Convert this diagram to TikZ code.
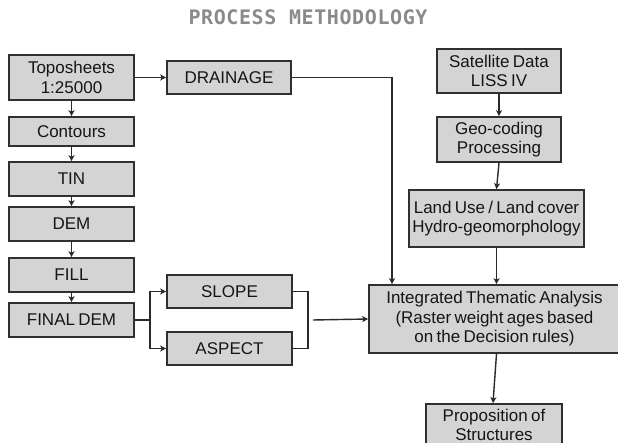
\documentclass[tikz,border=0pt]{standalone}
\usepackage{fontspec}
\setmainfont{Liberation Sans}[WordSpace=0.7]
\newfontfamily\titlefont{DejaVu Sans Mono}[LetterSpace=3]
\usetikzlibrary{arrows.meta}
\definecolor{boxfill}{HTML}{D4D4D4}
\definecolor{boxline}{HTML}{303030}
\definecolor{linecol}{HTML}{2A2A2A}
\definecolor{textcol}{HTML}{151515}
\definecolor{titlegray}{HTML}{8A8A8A}
\begin{document}
\begin{tikzpicture}[x=1pt,y=-1pt,
  box/.style={draw=boxline, fill=boxfill, line width=1.6pt, inner sep=0pt, align=center,
              font=\fontsize{17}{19.5}\selectfont, text=textcol},
  arr/.style={draw=linecol, line width=1.4pt, -{Stealth[length=6pt,width=6pt,inset=1.5pt]}},
  ln/.style={draw=linecol, line width=1.4pt}]
\useasboundingbox (0,0) rectangle (618,443);
\clip (0,0) rectangle (618,443);

\node[text=titlegray, font=\titlefont\bfseries\fontsize{20}{20}\selectfont] (title) at (308,17.5) {PROCESS METHODOLOGY};

\node[box, minimum width=125pt, minimum height=45pt] (topo) at (71.5,77.5) {Toposheets\\1:25000};
\node[box, minimum width=124pt, minimum height=33pt] (drain) at (229,77.5) {DRAINAGE};
\node[box, minimum width=124pt, minimum height=44pt] (sat) at (499,71) {Satellite Data\\LISS IV};
\node[box, minimum width=125pt, minimum height=29pt] (contours) at (71.5,131.5) {Contours};
\node[box, minimum width=125pt, minimum height=34pt] (tin) at (71.5,179) {TIN};
\node[box, minimum width=125pt, minimum height=34pt] (dem) at (71.5,224) {DEM};
\node[box, minimum width=125pt, minimum height=34pt] (fillbox) at (71.5,275) {FILL};
\node[box, minimum width=125pt, minimum height=34pt] (final) at (71.5,320) {FINAL DEM};
\node[box, minimum width=124pt, minimum height=45pt] (geo) at (499,139.5) {Geo-coding\\Processing};
\node[box, minimum width=175pt, minimum height=57pt] (land) at (496.5,218.5) {Land Use / Land cover\\Hydro-geomorphology};
\node[box, minimum width=125pt, minimum height=33pt] (slope) at (229.5,291.5) {SLOPE};
\node[box, minimum width=125pt, minimum height=33pt] (aspect) at (229.5,348.5) {ASPECT};
\node[box, minimum width=251pt, minimum height=68pt] (integ) at (494.5,319) {Integrated Thematic Analysis\\(Raster weight ages based\\on the Decision rules)};
\node[box, minimum width=136pt, minimum height=42pt] (prop) at (494,425) {Proposition of\\Structures};

\draw[arr] (topo) -- (drain);
\draw[arr] (topo) -- (contours);
\draw[arr] (contours) -- (tin);
\draw[arr] (tin) -- (dem);
\draw[arr] (dem) -- (fillbox);
\draw[arr] (fillbox) -- (final);

\coordinate (dturn) at (392,77.5);
\draw[arr] (drain.east) -- (dturn) -- (dturn |- integ.north);

\draw[arr] (sat) -- (geo);
\draw[arr] (geo.south) -- (land.north);
\draw[arr] (land.south) -- (land.south |- integ.north);
\draw[arr] ([xshift=2pt]integ.south) -- ([xshift=-1pt]prop.north);

\coordinate (split) at (150,320);
\draw[ln] (final.east) -- (split);
\draw[arr] (split) |- (slope.west);
\draw[arr] (split) |- (aspect.west);

\coordinate (merge) at (308,320);
\draw[ln] (slope.east) -| (merge);
\draw[ln] (aspect.east) -| (merge);
\coordinate (mout) at (313,320);
\draw[arr] (mout) -- (integ.west);
\end{tikzpicture}
\end{document}
